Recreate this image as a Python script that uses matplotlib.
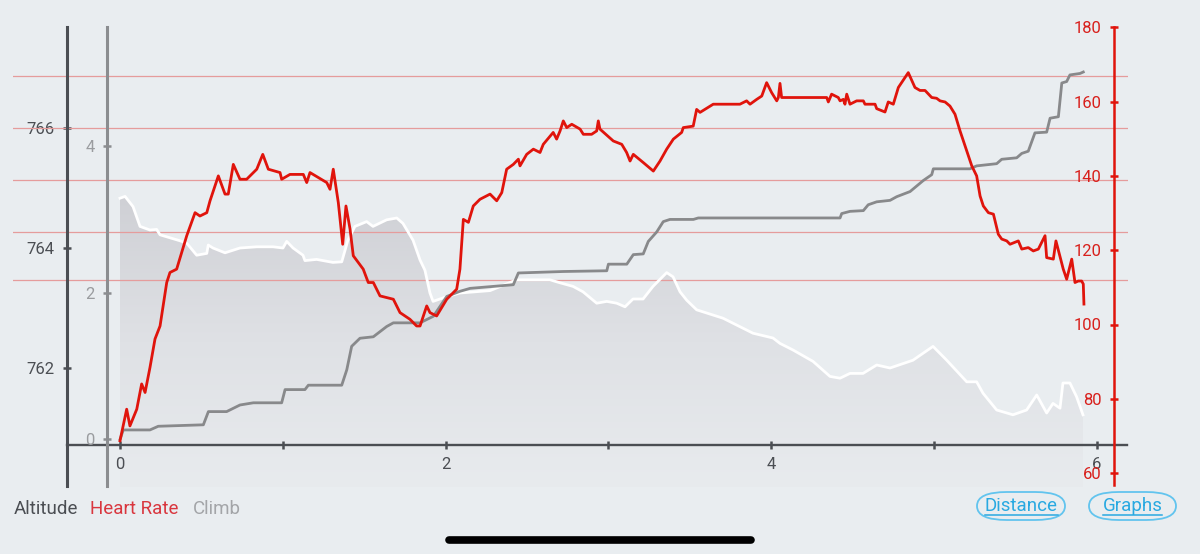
import matplotlib
matplotlib.use("Agg")
import matplotlib.pyplot as plt
import numpy as np
from matplotlib.patches import FancyBboxPatch
from matplotlib.lines import Line2D
from matplotlib.colors import LinearSegmentedColormap

plt.rcParams['font.family'] = ['Roboto', 'DejaVu Sans']

# ---------------- data ----------------
alt_dist = [0.0, 0.031, 0.080, 0.123, 0.184, 0.225, 0.246, 0.369, 0.410, 0.471, 0.533, 0.542,
            0.571, 0.645, 0.737, 0.840, 0.940, 1.001, 1.024, 1.063, 1.124, 1.136, 1.208, 1.308,
            1.362, 1.400, 1.443, 1.515, 1.554, 1.638, 1.700, 1.738, 1.800, 1.843, 1.873, 1.904,
            1.923, 2.007, 2.088, 2.273, 2.437, 2.641, 2.703, 2.783, 2.844, 2.928, 2.990, 3.051,
            3.102, 3.151, 3.213, 3.274, 3.358, 3.397, 3.440, 3.481, 3.542, 3.704, 3.888, 4.011,
            4.054, 4.134, 4.257, 4.361, 4.423, 4.484, 4.564, 4.648, 4.730, 4.871, 4.994, 5.078,
            5.201, 5.262, 5.301, 5.385, 5.485, 5.569, 5.631, 5.692, 5.731, 5.774, 5.792, 5.835,
            5.876, 5.915]
altitude = [764.83, 764.86, 764.69, 764.36, 764.30, 764.31, 764.22, 764.12, 764.08, 763.88, 763.91, 764.05,
            764.00, 763.92, 764.00, 764.02, 764.02, 764.00, 764.11, 764.00, 763.88, 763.79, 763.81, 763.76,
            763.77, 764.13, 764.36, 764.44, 764.36, 764.47, 764.50, 764.41, 764.13, 763.80, 763.63, 763.25,
            763.11, 763.19, 763.25, 763.29, 763.47, 763.47, 763.42, 763.36, 763.27, 763.08, 763.11, 763.08,
            763.02, 763.15, 763.15, 763.36, 763.59, 763.52, 763.27, 763.13, 762.97, 762.83, 762.58, 762.50,
            762.41, 762.30, 762.11, 761.86, 761.83, 761.91, 761.91, 762.05, 762.00, 762.13, 762.36, 762.13,
            761.77, 761.77, 761.58, 761.30, 761.22, 761.30, 761.55, 761.25, 761.41, 761.33, 761.75, 761.75,
            761.52, 761.22]

hr_dist = [0.000, 0.041, 0.061, 0.103, 0.133, 0.154, 0.184, 0.215, 0.246, 0.287, 0.307, 0.348,
           0.410, 0.461, 0.491, 0.533, 0.553, 0.604, 0.645, 0.665, 0.696, 0.737, 0.778, 0.840,
           0.877, 0.911, 0.983, 0.993, 1.044, 1.126, 1.147, 1.167, 1.270, 1.290, 1.310, 1.341,
           1.368, 1.388, 1.413, 1.433, 1.494, 1.525, 1.556, 1.597, 1.679, 1.720, 1.781, 1.822,
           1.843, 1.884, 1.904, 1.945, 2.007, 2.068, 2.088, 2.109, 2.140, 2.170, 2.211, 2.273,
           2.314, 2.345, 2.375, 2.416, 2.447, 2.457, 2.498, 2.539, 2.580, 2.600, 2.661, 2.682,
           2.703, 2.723, 2.744, 2.775, 2.826, 2.846, 2.897, 2.928, 2.938, 2.948, 3.030, 3.082,
           3.112, 3.133, 3.153, 3.214, 3.276, 3.317, 3.358, 3.399, 3.450, 3.460, 3.521, 3.542,
           3.563, 3.644, 3.808, 3.849, 3.870, 3.911, 3.942, 3.972, 4.003, 4.034, 4.044, 4.054,
           4.064, 4.341, 4.351, 4.371, 4.412, 4.423, 4.443, 4.453, 4.464, 4.484, 4.525, 4.566,
           4.576, 4.638, 4.648, 4.699, 4.719, 4.750, 4.781, 4.842, 4.883, 4.914, 4.945, 4.986,
           5.016, 5.037, 5.068, 5.098, 5.129, 5.160, 5.211, 5.232, 5.262, 5.283, 5.303, 5.334,
           5.365, 5.395, 5.416, 5.447, 5.467, 5.518, 5.539, 5.579, 5.610, 5.641, 5.682, 5.692,
           5.733, 5.749, 5.794, 5.815, 5.846, 5.866, 5.886, 5.907, 5.917, 5.921]
heart_rate = [68.7, 77.2, 72.7, 77.2, 84.0, 81.7, 88.4, 96.1, 99.6, 111.3, 114.0, 114.9,
              123.9, 130.1, 129.2, 130.1, 133.3, 140.0, 135.1, 135.1, 143.1, 139.1, 139.1, 141.8,
              145.8, 141.8, 140.9, 139.1, 140.4, 140.4, 138.2, 140.9, 138.2, 136.4, 141.8, 132.8,
              121.6, 131.9, 125.7, 118.5, 114.9, 111.3, 111.3, 107.7, 106.8, 103.2, 101.4, 99.6,
              99.6, 105.0, 103.2, 102.3, 106.8, 109.5, 114.9, 128.3, 127.5, 131.9, 133.7, 135.1,
              133.3, 135.5, 141.8, 143.1, 144.5, 142.7, 145.8, 147.2, 146.3, 148.5, 151.7, 149.9,
              152.1, 154.8, 153.0, 153.9, 152.6, 151.2, 151.2, 152.1, 154.8, 152.6, 149.4, 148.5,
              146.3, 144.0, 145.8, 143.6, 141.3, 144.0, 147.2, 149.9, 151.7, 153.0, 153.4, 157.9,
              157.1, 159.3, 159.3, 160.2, 159.3, 160.6, 161.5, 165.1, 162.4, 160.2, 161.1, 164.9,
              161.1, 161.1, 159.9, 162.0, 161.1, 160.2, 160.6, 159.3, 162.0, 159.3, 160.2, 160.2,
              159.3, 159.3, 158.1, 157.2, 159.9, 159.3, 163.8, 167.8, 163.8, 163.0, 163.0, 161.1,
              160.9, 160.2, 159.9, 158.8, 156.6, 152.1, 145.4, 142.7, 140.0, 134.6, 131.9, 130.1,
              129.7, 124.3, 123.0, 122.5, 121.6, 122.5, 120.3, 120.7, 119.8, 120.3, 123.9, 118.0,
              117.6, 122.5, 114.9, 112.2, 117.6, 111.3, 111.7, 111.7, 110.9, 105.5]

climb_dist = [0.000, 0.020, 0.184, 0.235, 0.512, 0.543, 0.655, 0.737, 0.819, 0.993, 1.014, 1.136,
              1.157, 1.362, 1.393, 1.423, 1.474, 1.556, 1.638, 1.679, 1.843, 1.925, 2.007, 2.088,
              2.150, 2.416, 2.447, 2.723, 2.990, 3.000, 3.113, 3.153, 3.214, 3.245, 3.297, 3.337,
              3.378, 3.522, 3.552, 4.423, 4.433, 4.484, 4.566, 4.596, 4.648, 4.730, 4.771, 4.853,
              4.934, 4.986, 4.996, 5.221, 5.262, 5.385, 5.416, 5.508, 5.539, 5.579, 5.620, 5.692,
              5.713, 5.764, 5.785, 5.815, 5.835, 5.897, 5.917]
climb = [0.00, 0.13, 0.13, 0.18, 0.20, 0.38, 0.38, 0.47, 0.50, 0.50, 0.68, 0.68,
         0.74, 0.74, 0.95, 1.27, 1.38, 1.40, 1.54, 1.59, 1.59, 1.68, 1.95, 2.02,
         2.06, 2.11, 2.27, 2.29, 2.30, 2.39, 2.39, 2.52, 2.53, 2.70, 2.83, 2.97,
         3.00, 3.00, 3.02, 3.02, 3.08, 3.11, 3.12, 3.20, 3.24, 3.26, 3.31, 3.38,
         3.53, 3.61, 3.69, 3.69, 3.73, 3.76, 3.82, 3.84, 3.90, 3.93, 4.18, 4.19,
         4.38, 4.40, 4.86, 4.88, 4.97, 4.99, 5.01]

hr_zones = [112, 125, 139, 153, 167]
x_major = [0, 2, 4, 6]
x_minor = [1, 3, 5]
alt_ticks = [762, 764, 766]
climb_ticks = [0, 2, 4]
hr_ticks = [60, 80, 100, 120, 140, 160, 180]
legend_labels = ["Altitude", "Heart Rate", "Climb"]
button_labels = ["Distance", "Graphs"]

# ---------------- style ----------------
BG = '#e9edf0'
DARK = '#4b4e53'
GRAY = '#8b8d90'
GRAY_TXT = '#9a9c9f'
RED = '#e0140c'
RED_TXT = '#d8201c'
ZONE = '#e59c9c'
BLUE = '#29a9e1'
BLUE_EDGE = '#62c4ee'

W, H = 1200, 554
fig = plt.figure(figsize=(W / 100, H / 100), dpi=100, facecolor=BG)

def fx(px):
    return px / W

def fy(py):
    return 1 - py / H

ax_left_px, ax_right_px, ax_top_px, ax_bot_px = 13, 1128, 27, 487
ax = fig.add_axes([fx(ax_left_px), fy(ax_bot_px), fx(ax_right_px - ax_left_px),
                   (ax_bot_px - ax_top_px) / H])
ax.set_facecolor('none')

x0px, xs = 120.0, 162.8
XLIM = ((ax_left_px - x0px) / xs, (ax_right_px - x0px) / xs)
ALT_LIM = (766 - (ax_bot_px - 128) / 60, 766 + (128 - ax_top_px) / 60)
ax.set_xlim(*XLIM)
ax.set_ylim(*ALT_LIM)

ax_climb = ax.twinx()
ax_climb.set_ylim(-(ax_bot_px - 439.5) / 73.3, 4 + (146 - ax_top_px) / 73.3)
ax_hr = ax.twinx()
ax_hr.set_ylim(180 - (ax_bot_px - 27.3) / 3.715, 180 + (27.3 - ax_top_px) / 3.715)

for a in (ax, ax_climb, ax_hr):
    for s in a.spines.values():
        s.set_visible(False)
    a.patch.set_visible(False)

# ---------------- altitude fill (gradient) ----------------
ybase = ALT_LIM[0]
poly = ax.fill_between(alt_dist, altitude, ybase, facecolor='none', edgecolor='none', zorder=1)
grad = np.linspace(0, 1, 256).reshape(-1, 1)
cmap = LinearSegmentedColormap.from_list('g', ['#e8ebee', '#dfe1e5', '#cfd0d5'])
im = ax.imshow(grad, aspect='auto', cmap=cmap, origin='lower',
               extent=[alt_dist[0], alt_dist[-1], ybase, max(altitude)], zorder=1,
               interpolation='bicubic')
im.set_clip_path(poly.get_paths()[0], transform=ax.transData)
ax.set_xlim(*XLIM)
ax.set_ylim(*ALT_LIM)

# HR zone lines (on HR scale), drawn above fill
for z in hr_zones:
    ax.plot(XLIM, [z, z], color=ZONE, lw=0.9, transform=ax_hr.transData, zorder=2)

ax.plot(alt_dist, altitude, color='white', lw=2.0, zorder=3, solid_joinstyle='round')

# ---------------- spines / ticks ----------------
ax.spines['left'].set_visible(True)
ax.spines['left'].set_position(('data', (67 - x0px) / xs))
ax.spines['left'].set_color(DARK)
ax.spines['left'].set_linewidth(2.2)
ax.spines['left'].set_bounds(766 - (486 - 128) / 60, ALT_LIM[1])
ax.set_yticks(alt_ticks)
ax.tick_params(axis='y', direction='inout', length=6, width=1.8, color=DARK,
               labelcolor=DARK, labelsize=12, pad=6)

ax.spines['bottom'].set_visible(True)
ax.spines['bottom'].set_position(('data', 766 - (445 - 128) / 60))
ax.spines['bottom'].set_color(DARK)
ax.spines['bottom'].set_linewidth(1.7)
ax.spines['bottom'].set_bounds((67 - x0px) / xs, (1127 - x0px) / xs)
ax.set_xticks(x_major)
ax.set_xticks(x_minor, minor=True)
ax.tick_params(axis='x', which='both', direction='inout', length=6, width=1.8, color=DARK,
               labelcolor=DARK, labelsize=12, pad=6)

ax_climb.yaxis.tick_left()
ax_climb.spines['left'].set_visible(True)
ax_climb.spines['left'].set_position(('data', (107 - x0px) / xs))
ax_climb.spines['left'].set_color(GRAY)
ax_climb.spines['left'].set_linewidth(2.2)
ax_climb.spines['left'].set_bounds(-(486 - 439.5) / 73.3, ax_climb.get_ylim()[1])
ax_climb.set_yticks(climb_ticks)
ax_climb.tick_params(axis='y', direction='inout', length=6, width=1.8, color=GRAY,
                     labelcolor=GRAY_TXT, labelsize=12, pad=6)
ax_climb.plot(climb_dist, climb, color='#88898b', lw=2.0, zorder=4, solid_joinstyle='round')

ax_hr.yaxis.tick_left()
ax_hr.spines['left'].set_visible(True)
ax_hr.spines['left'].set_position(('data', (1114 - x0px) / xs))
ax_hr.spines['left'].set_color(RED)
ax_hr.spines['left'].set_linewidth(1.8)
ax_hr.spines['left'].set_bounds(ax_hr.get_ylim()[0] + 0.6, ax_hr.get_ylim()[1])
ax_hr.set_yticks(hr_ticks)
ax_hr.tick_params(axis='y', direction='inout', length=6, width=1.8, color=RED,
                  labelcolor=RED_TXT, labelsize=12, pad=6)
ax_hr.plot(hr_dist, heart_rate, color=RED, lw=2.0, zorder=5, solid_joinstyle='round')

# ---------------- legend texts ----------------
legend_colors = [DARK, '#d9363e', '#a3a5a8']
legend_x = [14, 90, 193]
for lab, c, x in zip(legend_labels, legend_colors, legend_x):
    fig.text(fx(x), fy(509), lab, color=c, fontsize=13.5, ha='left', va='center')

# ---------------- buttons ----------------
btn_boxes = [(977, 1065), (1089, 1176)]
texts = []
for lab, (x1, x2) in zip(button_labels, btn_boxes):
    p = FancyBboxPatch((fx(x1), fy(520)), fx(x2 - x1), (520 - 492) / H,
                       boxstyle='round,pad=0,rounding_size=0.025',
                       transform=fig.transFigure, facecolor='none',
                       edgecolor=BLUE_EDGE, lw=1.3)
    fig.patches.append(p)
    t = fig.text(fx((x1 + x2) / 2), fy(506), lab, color=BLUE, fontsize=13.5,
                 ha='center', va='center')
    texts.append(t)

fig.canvas.draw()
r = fig.canvas.get_renderer()
for t in texts:
    bb = t.get_window_extent(r)
    yline = fy(515)
    fig.add_artist(Line2D([bb.x0 / W, bb.x1 / W], [yline, yline], color=BLUE, lw=1.1,
                          transform=fig.transFigure))

# home indicator
fig.add_artist(Line2D([fx(449), fx(751)], [fy(540), fy(540)], color='black', lw=5.5,
                      solid_capstyle='round', transform=fig.transFigure))

fig.savefig('out.png', dpi=100, facecolor=BG)
